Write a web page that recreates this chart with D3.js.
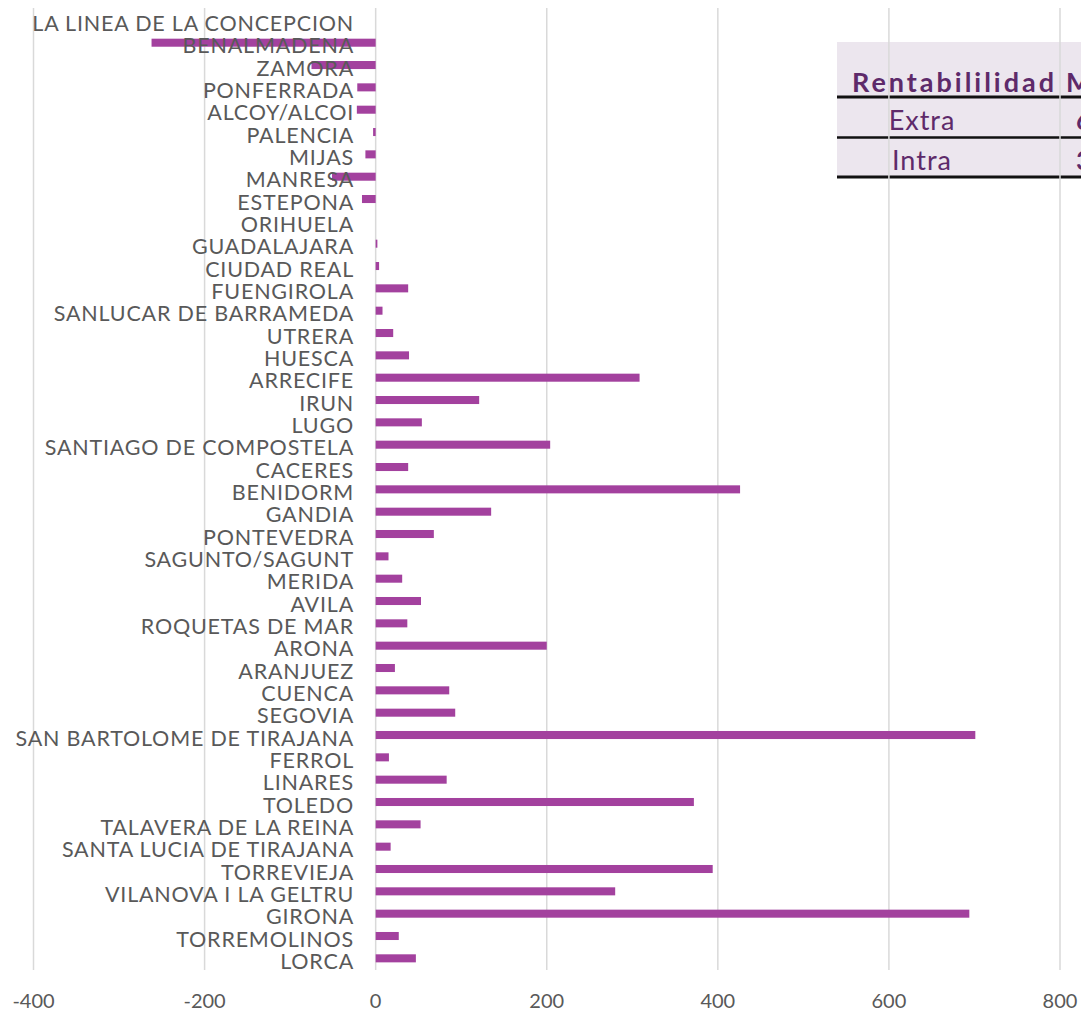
<!DOCTYPE html>
<html>
<head>
<meta charset="utf-8">
<script src="https://cdn.jsdelivr.net/npm/d3@7"></script>
<style>
  body { margin: 0; background: #fff; }
  svg { display: block; font-family: Lato, "Noto Sans", sans-serif; }
</style>
</head>
<body>
<div id="chart"></div>
<script>
// cities, top to bottom
var cities = ["LA LINEA DE LA CONCEPCION", "BENALMADENA", "ZAMORA", "PONFERRADA", "ALCOY/ALCOI",
    "PALENCIA", "MIJAS", "MANRESA", "ESTEPONA", "ORIHUELA", "GUADALAJARA", "CIUDAD REAL",
    "FUENGIROLA", "SANLUCAR DE BARRAMEDA", "UTRERA", "HUESCA", "ARRECIFE", "IRUN", "LUGO",
    "SANTIAGO DE COMPOSTELA", "CACERES", "BENIDORM", "GANDIA", "PONTEVEDRA", "SAGUNTO/SAGUNT",
    "MERIDA", "AVILA", "ROQUETAS DE MAR", "ARONA", "ARANJUEZ", "CUENCA", "SEGOVIA",
    "SAN BARTOLOME DE TIRAJANA", "FERROL", "LINARES", "TOLEDO", "TALAVERA DE LA REINA",
    "SANTA LUCIA DE TIRAJANA", "TORREVIEJA", "VILANOVA I LA GELTRU", "GIRONA", "TORREMOLINOS", "LORCA"];

var values = [0, -262, -75, -21.5, -22, -3, -12, -51, -16, 0, 2, 4, 38, 8, 20.5, 39, 308.5, 121, 54,
    204, 38, 426, 135, 68, 15, 31, 53, 37, 200, 22.5, 86, 93, 701, 15.5, 83, 372, 52.5, 17.5,
    394, 280, 694, 27, 47];

var xTicks = [-400, -200, 0, 200, 400, 600, 800];

// small table in the corner
var tableHeader = ["Rentabililidad", "Media"];
var tableRows = [["Extra", "6"], ["Intra", "3"]];

var width = 1081, height = 1012;
var textGray = "#595959", barColor = "#A3419E", purple = "#5E2A6A";

var svg = d3.select("#chart").append("svg")
    .attr("width", width)
    .attr("height", height);

var x = d3.scaleLinear().domain([-400, 800]).range([33.5, 1060]);
var y = d3.scaleBand().domain(cities).range([9.2, 969.5])
    .paddingInner(0.64).paddingOuter(0.32);

// table box (gridlines go over it)
var tbl = svg.append("g");
tbl.append("rect")
    .attr("x", 837).attr("y", 42)
    .attr("width", 300).attr("height", 135)
    .attr("fill", "#ECE6EE");
tbl.append("text")
    .attr("x", 852).attr("y", 92)
    .attr("font-size", 27).attr("font-weight", "bold").attr("fill", purple)
    .attr("textLength", 202).attr("lengthAdjust", "spacing")
    .text(tableHeader[0]);
tbl.append("text")
    .attr("x", 1066).attr("y", 92)
    .attr("font-size", 27).attr("font-weight", "bold").attr("fill", purple)
    .text(tableHeader[1]);
tableRows.forEach(function (r, i) {
    var base = 130 + i * 40;
    tbl.append("text")
        .attr("x", 922).attr("y", base)
        .attr("text-anchor", "middle")
        .attr("font-size", 27).attr("letter-spacing", 1).attr("fill", purple)
        .text(r[0]);
    tbl.append("text")
        .attr("x", 1076).attr("y", base)
        .attr("font-size", 27).attr("font-weight", "bold").attr("fill", purple)
        .text(r[1]);
});
[[97, 3], [137.5, 2.5], [177, 3]].forEach(function (l) {
    tbl.append("line")
        .attr("x1", 837).attr("x2", width)
        .attr("y1", l[0]).attr("y2", l[0])
        .attr("stroke", "#111").attr("stroke-width", l[1]);
});

// vertical gridlines
svg.append("g")
    .selectAll("line")
    .data(xTicks)
    .join("line")
    .attr("x1", d => x(d)).attr("x2", d => x(d))
    .attr("y1", 8).attr("y2", 970)
    .attr("stroke", "#d9d9d9")
    .attr("stroke-width", 1.5);

// bars
svg.append("g")
    .selectAll("rect")
    .data(values)
    .join("rect")
    .attr("x", d => x(Math.min(0, d)))
    .attr("y", (d, i) => y(cities[i]))
    .attr("width", d => Math.abs(x(d) - x(0)))
    .attr("height", y.bandwidth())
    .attr("fill", barColor);

// category labels, drawn over the bars
svg.append("g")
    .selectAll("text")
    .data(cities)
    .join("text")
    .attr("x", 354)
    .attr("y", d => y(d) + y.bandwidth() / 2 + 10.5)
    .attr("text-anchor", "end")
    .attr("font-size", 21.5)
    .attr("letter-spacing", 0.8)
    .attr("fill", textGray)
    .text(d => d);

// x tick labels
svg.append("g")
    .selectAll("text")
    .data(xTicks)
    .join("text")
    .attr("x", d => x(d))
    .attr("y", 1008)
    .attr("text-anchor", "middle")
    .attr("font-size", 20)
    .attr("fill", textGray)
    .text(d => d);
</script>
</body>
</html>
